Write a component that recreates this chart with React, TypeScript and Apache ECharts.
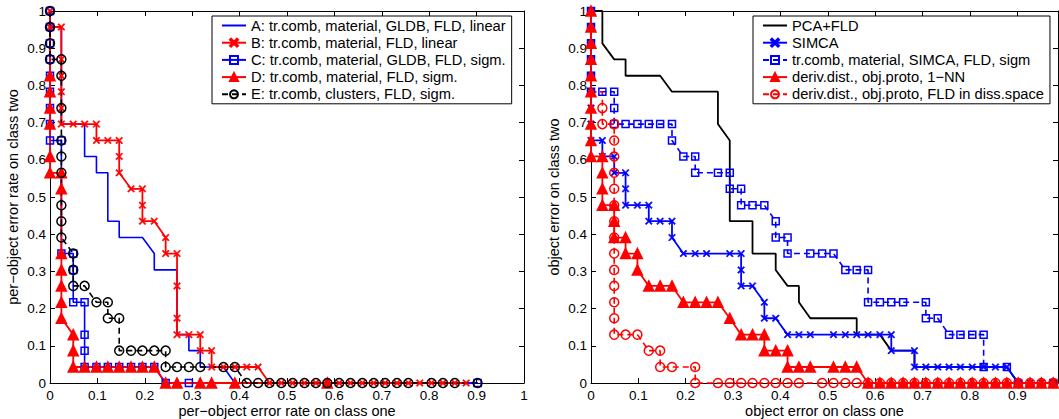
import React, { useEffect, useRef } from "react";
import * as echarts from "echarts";

const FONT = '"Liberation Sans", Arial, Helvetica, sans-serif';

// ---------- left panel: per-object error rates ----------
const leftNames = [
  "A: tr.comb, material, GLDB, FLD, linear",
  "B: tr.comb, material, FLD, linear",
  "C: tr.comb, material, GLDB, FLD, sigm.",
  "D: tr.comb, material, FLD, sigm.",
  "E: tr.comb, clusters, FLD, sigm.",
];

const seriesA: number[][] = [
  [0, 1], [0, 0.957], [0.024, 0.957], [0.024, 0.696], [0.073, 0.696], [0.073, 0.609],
  [0.098, 0.609], [0.098, 0.565], [0.122, 0.565], [0.122, 0.435], [0.146, 0.435], [0.146, 0.391],
  [0.195, 0.391], [0.22, 0.348], [0.22, 0.304], [0.268, 0.304], [0.268, 0.13], [0.293, 0.13],
  [0.293, 0.087], [0.317, 0.087], [0.317, 0.043], [0.366, 0.043], [0.39, 0], [0.902, 0],
];

const seriesB: number[][] = [
  [0, 1], [0, 0.957], [0.024, 0.957], [0.024, 0.87], [0.024, 0.826], [0.024, 0.783], [0.024, 0.739],
  [0.024, 0.696], [0.049, 0.696], [0.073, 0.696], [0.098, 0.696], [0.098, 0.652], [0.122, 0.652],
  [0.146, 0.652], [0.146, 0.609], [0.146, 0.565], [0.171, 0.522], [0.195, 0.522], [0.195, 0.478],
  [0.195, 0.435], [0.22, 0.435], [0.244, 0.391], [0.244, 0.348], [0.268, 0.348], [0.268, 0.261],
  [0.268, 0.174], [0.268, 0.13], [0.293, 0.13], [0.317, 0.13], [0.317, 0.087], [0.341, 0.087],
  [0.341, 0.043], [0.366, 0.043], [0.39, 0.043], [0.415, 0.043], [0.439, 0.043], [0.463, 0],
  [0.488, 0], [0.512, 0], [0.537, 0], [0.561, 0], [0.585, 0], [0.61, 0], [0.634, 0], [0.659, 0],
  [0.683, 0], [0.707, 0], [0.732, 0], [0.756, 0], [0.78, 0], [0.805, 0], [0.829, 0], [0.854, 0],
  [0.878, 0],
];

const seriesC: number[][] = [
  [0, 1], [0, 0.957], [0, 0.913], [0, 0.87], [0, 0.826], [0, 0.783], [0, 0.739], [0, 0.696],
  [0, 0.652], [0.024, 0.652], [0.024, 0.348], [0.049, 0.348], [0.049, 0.304], [0.049, 0.217],
  [0.073, 0.217], [0.073, 0.13], [0.073, 0.087], [0.073, 0.043], [0.098, 0.043], [0.122, 0.043],
  [0.146, 0.043], [0.171, 0.043], [0.195, 0.043], [0.22, 0.043], [0.244, 0], [0.293, 0], [0.902, 0],
];

const seriesD: number[][] = [
  [0, 1], [0, 0.826], [0, 0.783], [0, 0.739], [0, 0.696], [0, 0.609], [0, 0.565], [0.024, 0.565],
  [0.024, 0.522], [0.024, 0.348], [0.024, 0.304], [0.024, 0.261], [0.024, 0.217], [0.024, 0.174],
  [0.049, 0.13], [0.049, 0.087], [0.049, 0.043], [0.073, 0.043], [0.098, 0.043], [0.122, 0.043],
  [0.146, 0.043], [0.171, 0.043], [0.195, 0.043], [0.22, 0.043], [0.244, 0], [0.268, 0],
  [0.317, 0], [0.341, 0], [0.39, 0], [0.585, 0], [0.878, 0],
];
const seriesDNoMark = [0, 30];

const seriesE: number[][] = [
  [0, 1], [0, 0.957], [0, 0.913], [0, 0.87], [0.024, 0.87], [0.024, 0.826], [0.024, 0.739],
  [0.024, 0.652], [0.024, 0.609], [0.024, 0.565], [0.024, 0.478], [0.024, 0.435], [0.024, 0.391],
  [0.049, 0.348], [0.049, 0.304], [0.049, 0.261], [0.073, 0.261], [0.098, 0.217], [0.122, 0.217],
  [0.122, 0.174], [0.146, 0.174], [0.146, 0.087], [0.171, 0.087], [0.195, 0.087], [0.22, 0.087],
  [0.244, 0.087], [0.244, 0.043], [0.268, 0.043], [0.293, 0.043], [0.317, 0.043], [0.366, 0.043],
  [0.39, 0.043], [0.415, 0], [0.439, 0], [0.463, 0], [0.488, 0], [0.512, 0], [0.537, 0], [0.561, 0],
  [0.585, 0], [0.61, 0], [0.634, 0], [0.659, 0], [0.683, 0], [0.707, 0], [0.732, 0], [0.756, 0],
  [0.805, 0], [0.829, 0], [0.854, 0], [0.902, 0],
];

// ---------- right panel: object errors ----------
const rightNames = [
  "PCA+FLD",
  "SIMCA",
  "tr.comb, material, SIMCA, FLD, sigm",
  "deriv.dist., obj.proto, 1\u2212NN",
  "deriv.dist., obj.proto, FLD in diss.space",
];

const seriesPCA: number[][] = [
  [0, 1], [0.024, 1], [0.024, 0.913], [0.049, 0.87], [0.073, 0.87], [0.073, 0.826], [0.146, 0.826],
  [0.171, 0.783], [0.268, 0.783], [0.268, 0.696], [0.293, 0.652], [0.293, 0.435], [0.341, 0.435],
  [0.341, 0.348], [0.39, 0.348], [0.39, 0.304], [0.415, 0.261], [0.439, 0.261], [0.439, 0.217],
  [0.463, 0.174], [0.561, 0.174], [0.561, 0.13], [0.61, 0.13], [0.634, 0.087], [0.683, 0.087],
  [0.683, 0.043], [0.878, 0.043], [0.902, 0], [0.976, 0],
];

const seriesSIMCA: number[][] = [
  [0, 1], [0, 0.957], [0, 0.913], [0, 0.87], [0, 0.826], [0, 0.783], [0, 0.739], [0, 0.696],
  [0, 0.652], [0.024, 0.652], [0.024, 0.609], [0.049, 0.609], [0.049, 0.565], [0.073, 0.565],
  [0.073, 0.522], [0.073, 0.478], [0.098, 0.478], [0.122, 0.478], [0.122, 0.435], [0.146, 0.435],
  [0.171, 0.435], [0.171, 0.391], [0.195, 0.348], [0.22, 0.348], [0.244, 0.348], [0.293, 0.348],
  [0.317, 0.348], [0.317, 0.304], [0.317, 0.261], [0.341, 0.261], [0.366, 0.217], [0.366, 0.174],
  [0.39, 0.174], [0.415, 0.13], [0.439, 0.13], [0.463, 0.13], [0.512, 0.13], [0.537, 0.13],
  [0.561, 0.13], [0.585, 0.13], [0.61, 0.13], [0.634, 0.13], [0.634, 0.087], [0.683, 0.087],
  [0.683, 0.043], [0.707, 0.043], [0.732, 0.043], [0.756, 0.043], [0.78, 0.043], [0.805, 0.043],
  [0.829, 0.043], [0.854, 0.043], [0.878, 0.043], [0.902, 0], [0.927, 0], [0.951, 0], [0.976, 0],
];

const seriesTrSIMCA: number[][] = [
  [0, 1], [0, 0.957], [0, 0.913], [0, 0.87], [0, 0.826], [0, 0.783], [0.024, 0.783], [0.049, 0.783],
  [0.049, 0.739], [0.049, 0.696], [0.073, 0.696], [0.098, 0.696], [0.122, 0.696], [0.146, 0.696],
  [0.171, 0.696], [0.171, 0.652], [0.195, 0.609], [0.22, 0.609], [0.22, 0.565], [0.268, 0.565],
  [0.293, 0.565], [0.293, 0.522], [0.317, 0.522], [0.317, 0.478], [0.341, 0.478], [0.366, 0.478],
  [0.39, 0.435], [0.39, 0.391], [0.415, 0.391], [0.415, 0.348], [0.463, 0.348], [0.488, 0.348],
  [0.512, 0.348], [0.537, 0.304], [0.561, 0.304], [0.585, 0.304], [0.585, 0.217], [0.61, 0.217],
  [0.634, 0.217], [0.659, 0.217], [0.707, 0.217], [0.707, 0.174], [0.732, 0.174], [0.756, 0.13],
  [0.78, 0.13], [0.805, 0.13], [0.829, 0.13], [0.829, 0.043], [0.878, 0.043], [0.902, 0], [0.976, 0],
];

const seriesNN: number[][] = [
  [0, 1], [0, 0.957], [0, 0.913], [0, 0.87], [0, 0.826], [0, 0.783], [0, 0.739], [0, 0.696],
  [0, 0.652], [0, 0.609], [0.024, 0.609], [0.024, 0.565], [0.024, 0.522], [0.024, 0.478],
  [0.049, 0.478], [0.049, 0.435], [0.049, 0.391], [0.073, 0.391], [0.073, 0.348], [0.098, 0.348],
  [0.098, 0.304], [0.122, 0.261], [0.146, 0.261], [0.171, 0.261], [0.195, 0.217], [0.22, 0.217],
  [0.244, 0.217], [0.268, 0.217], [0.293, 0.174], [0.317, 0.13], [0.341, 0.13], [0.366, 0.13],
  [0.366, 0.087], [0.39, 0.087], [0.415, 0.087], [0.415, 0.043], [0.439, 0.043], [0.463, 0.043],
  [0.512, 0.043], [0.537, 0.043], [0.561, 0.043], [0.585, 0], [0.61, 0], [0.634, 0], [0.659, 0],
  [0.683, 0], [0.707, 0], [0.732, 0], [0.756, 0], [0.78, 0], [0.805, 0], [0.829, 0], [0.854, 0],
  [0.878, 0], [0.902, 0], [0.927, 0], [0.951, 0], [0.976, 0],
];

const seriesFLD: number[][] = [
  [0, 1], [0, 0.783], [0.024, 0.783], [0.024, 0.739], [0.024, 0.696], [0.049, 0.696], [0.049, 0.652],
  [0.049, 0.609], [0.049, 0.565], [0.049, 0.522], [0.049, 0.478], [0.049, 0.435], [0.049, 0.391],
  [0.049, 0.348], [0.049, 0.304], [0.049, 0.261], [0.049, 0.217], [0.049, 0.174], [0.049, 0.13],
  [0.073, 0.13], [0.098, 0.13], [0.122, 0.087], [0.146, 0.087], [0.146, 0.043], [0.171, 0.043],
  [0.22, 0.043], [0.22, 0], [0.268, 0], [0.293, 0], [0.317, 0], [0.341, 0], [0.366, 0], [0.39, 0],
  [0.415, 0], [0.439, 0], [0.488, 0], [0.512, 0], [0.537, 0], [0.561, 0], [0.585, 0], [0.61, 0],
  [0.634, 0], [0.659, 0], [0.683, 0], [0.707, 0], [0.732, 0], [0.756, 0], [0.78, 0], [0.805, 0],
  [0.829, 0], [0.854, 0], [0.878, 0], [0.902, 0], [0.927, 0], [0.951, 0], [0.976, 0],
];
const seriesFLDNoMark = [0, 1, 2];

const X_MARK =
  "path://M0,1.3L1.3,0L5,3.7L8.7,0L10,1.3L6.3,5L10,8.7L8.7,10L5,6.3L1.3,10L0,8.7L3.7,5Z";

const BLUE = "#0000ff";
const RED = "#ff0000";
const BLACK = "#000000";
const CLEAR = "rgba(0,0,0,0)";
const DASH = [6, 4];

function toData(pts: number[][], noMark: number[] = []) {
  return pts.map((p, i) => (noMark.includes(i) ? { value: p, symbol: "none" } : p));
}

type Style = {
  color: string;
  symbol: string;
  size: number;
  fill: string;
  dashed?: boolean;
  width?: number;
  border?: number;
};

function mkSeries(name: string, pts: number[][], panel: number, st: Style, noMark: number[] = []) {
  const lineOnly = st.symbol === "none";
  return {
    type: "line",
    name,
    xAxisIndex: panel * 2,
    yAxisIndex: panel * 2,
    data: toData(pts, noMark),
    symbol: lineOnly ? "circle" : st.symbol,
    symbolSize: lineOnly ? 0 : st.size,
    showSymbol: !lineOnly,
    showAllSymbol: true,
    clip: false,
    silent: true,
    lineStyle: { color: st.color, width: st.width ?? 1.6, type: st.dashed ? DASH : "solid" },
    itemStyle: lineOnly
      ? { color: CLEAR, borderColor: CLEAR, borderWidth: 0 }
      : { color: st.fill, borderColor: st.color, borderWidth: st.border ?? 1.5 },
  };
}

function axisBase(gridIndex: number, max: number, pos: string, labels: boolean, name?: string, isY?: boolean) {
  return {
    type: "value",
    gridIndex,
    min: 0,
    max,
    interval: 0.1,
    position: pos,
    axisLine: { show: true, onZero: false, lineStyle: { color: BLACK, width: 1 } },
    axisTick: { show: true, inside: true, length: 5, lineStyle: { color: BLACK, width: 1 } },
    splitLine: { show: false },
    axisLabel: {
      show: labels,
      color: BLACK,
      fontSize: 13.5,
      fontFamily: FONT,
      margin: isY ? 4 : 5,
      showMaxLabel: max >= 1,
      formatter: (v: number) => String(+v.toFixed(1)),
    },
    name: name,
    nameLocation: "middle",
    nameGap: isY ? 30 : 20,
    nameMoveOverlap: false,
    nameTextStyle: { color: BLACK, fontSize: 14.5, fontFamily: FONT },
  };
}

function legendBase(names: string[], left: number) {
  return {
    data: names,
    orient: "vertical",
    left,
    top: 16,
    backgroundColor: "#ffffff",
    borderColor: BLACK,
    borderWidth: 1,
    borderRadius: 0,
    padding: [2, 6, 2, 9],
    itemWidth: 24,
    itemHeight: 10,
    itemGap: 2.2,
    itemTextGap: 8,
    selectedMode: false,
    textStyle: { color: BLACK, fontSize: 14.7, fontFamily: FONT, lineHeight: 15 },
  };
}

const RIGHT_MAX = 0.986;

export default function App() {
  const ref = useRef<HTMLDivElement>(null);
  useEffect(() => {
    if (!ref.current) return;
    const chart = echarts.init(ref.current, undefined, { renderer: "svg" });
    const option = {
      animation: false,
      backgroundColor: "#ffffff",
      grid: [
        { left: 50, top: 11, width: 474, height: 372, outerBoundsMode: "none", containLabel: false },
        { left: 591, top: 11, width: 467, height: 372, outerBoundsMode: "none", containLabel: false },
      ],
      xAxis: [
        axisBase(0, 1, "bottom", true, "per\u2212object error rate on class one"),
        axisBase(0, 1, "top", false),
        axisBase(1, RIGHT_MAX, "bottom", true, "object error on class one"),
        axisBase(1, RIGHT_MAX, "top", false),
      ],
      yAxis: [
        axisBase(0, 1, "left", true, "per\u2212object error rate on class two", true),
        axisBase(0, 1, "right", false, undefined, true),
        axisBase(1, 1, "left", true, "object error on class two", true),
        axisBase(1, 1, "right", false, undefined, true),
      ],
      legend: [legendBase(leftNames, 212), legendBase(rightNames, 753)],
      series: [
        mkSeries(leftNames[0], seriesA, 0, { color: BLUE, symbol: "none", size: 0, fill: BLUE }),
        mkSeries(leftNames[1], seriesB, 0, { color: RED, symbol: X_MARK, size: 7, fill: RED, width: 1.8, border: 0.6 }),
        mkSeries(leftNames[2], seriesC, 0, { color: BLUE, symbol: "rect", size: 7, fill: CLEAR }),
        mkSeries(leftNames[3], seriesD, 0, { color: RED, symbol: "triangle", size: 10, fill: RED, width: 1.8 }, seriesDNoMark),
        mkSeries(leftNames[4], seriesE, 0, { color: BLACK, symbol: "circle", size: 9, fill: CLEAR, dashed: true }),
        mkSeries(rightNames[0], seriesPCA, 1, { color: BLACK, symbol: "none", size: 0, fill: BLACK, width: 1.8 }),
        mkSeries(rightNames[1], seriesSIMCA, 1, { color: BLUE, symbol: X_MARK, size: 7, fill: BLUE, width: 1.8, border: 0.6 }),
        mkSeries(rightNames[2], seriesTrSIMCA, 1, { color: BLUE, symbol: "rect", size: 7, fill: CLEAR, dashed: true }),
        mkSeries(rightNames[3], seriesNN, 1, { color: RED, symbol: "triangle", size: 10, fill: RED, width: 1.8 }),
        mkSeries(rightNames[4], seriesFLD, 1, { color: RED, symbol: "circle", size: 9, fill: CLEAR, dashed: true }, seriesFLDNoMark),
      ],
    };
    chart.setOption(option as any);
    return () => chart.dispose();
  }, []);
  return (
    <div
      ref={ref}
      style={{ position: "absolute", left: 0, top: 0, width: 1059, height: 419, background: "#fff" }}
    />
  );
}
